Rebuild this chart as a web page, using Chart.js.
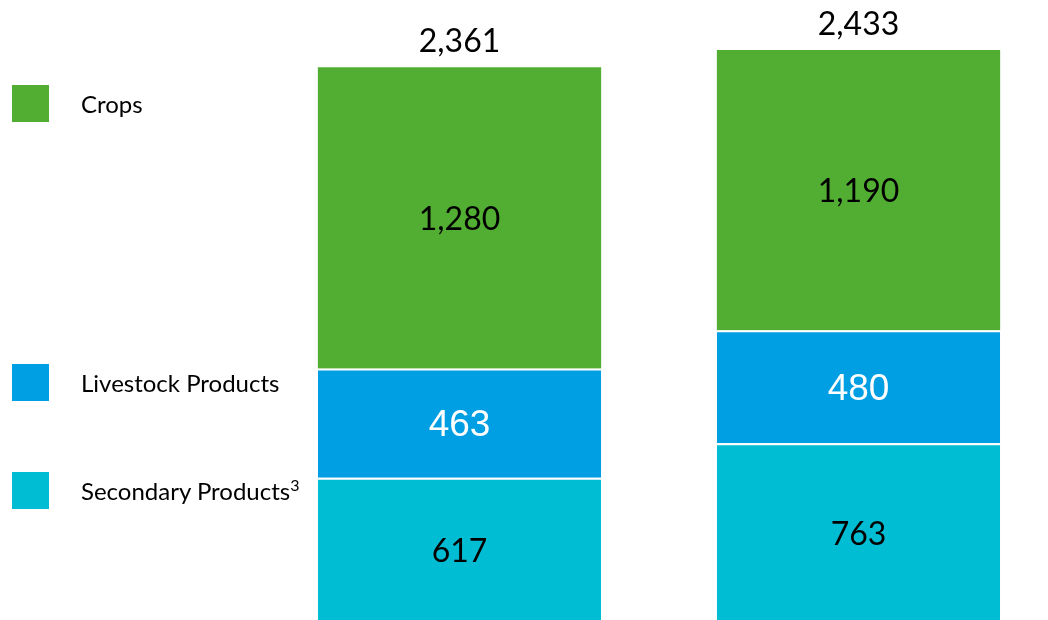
<!DOCTYPE html>
<html>
<head>
<meta charset="utf-8">
<script src="https://cdn.jsdelivr.net/npm/chart.js@4"></script>
<style>
  html, body { margin: 0; padding: 0; background: #fff; overflow: hidden; }
  #wrap { position: relative; width: 1058px; height: 623px; }
  .legend-item { position: absolute; left: 12px; height: 37px; display: flex; align-items: center; }
  .legend-item .box { width: 37px; height: 37px; }
  .legend-item .txt { position: absolute; left: 69px; white-space: nowrap; font-family: Lato, "Open Sans", sans-serif; font-size: 24px; color: #000; top: 4px; }
  .legend-item sup { font-size: 16px; vertical-align: 9px; line-height: 0; }
</style>
</head>
<body>
<div id="wrap">
  <canvas id="chart" width="1058" height="623"></canvas>
  <div id="legend"></div>
</div>
<script>
const categories = ['Period 1', 'Period 2'];
const crops = [1280, 1190];
const livestock = [463, 480];
const secondary = [617, 763];
const totals = [2361, 2433];

const seriesNames = ['Secondary Products', 'Livestock Products', 'Crops'];
const seriesColors = ['#00BDD3', '#009FE3', '#52AE32'];
const labelColors = ['#000000', '#ffffff', '#000000'];

// legend, drawn in html on the left
const legendTops = { 'Crops': 85, 'Livestock Products': 364, 'Secondary Products': 472 };
const legendEl = document.getElementById('legend');
seriesNames.forEach((name, i) => {
  const item = document.createElement('div');
  item.className = 'legend-item';
  item.style.top = legendTops[name] + 'px';
  const box = document.createElement('div');
  box.className = 'box';
  box.style.background = seriesColors[i];
  const txt = document.createElement('div');
  txt.className = 'txt';
  txt.innerHTML = name + (name === 'Secondary Products' ? '<sup>3</sup>' : '');
  item.appendChild(box);
  item.appendChild(txt);
  legendEl.appendChild(item);
});

const fmt = v => v.toLocaleString('en-US');

const valueLabels = {
  id: 'valueLabels',
  afterDatasetsDraw(chart) {
    const ctx = chart.ctx;
    ctx.save();
    ctx.textAlign = 'center';
    ctx.textBaseline = 'alphabetic';
    chart.data.datasets.forEach((ds, di) => {
      const meta = chart.getDatasetMeta(di);
      meta.data.forEach((el, i) => {
        const mid = (el.y + el.base) / 2;
        ctx.fillStyle = labelColors[di];
        if (di === 1) {
          ctx.font = '37px "Liberation Sans", Arial, sans-serif';
          ctx.fillText(fmt(ds.data[i]), el.x, mid + 13);
        } else {
          ctx.font = '32px Lato, sans-serif';
          ctx.fillText(fmt(ds.data[i]), el.x, mid + 12);
        }
      });
    });
    // totals above the top segment
    const topMeta = chart.getDatasetMeta(chart.data.datasets.length - 1);
    ctx.font = '32px Lato, sans-serif';
    ctx.fillStyle = '#000';
    topMeta.data.forEach((el, i) => {
      ctx.fillText(fmt(totals[i]), el.x, el.y - 15);
    });
    ctx.restore();
  }
};

new Chart(document.getElementById('chart'), {
  type: 'bar',
  data: {
    labels: categories,
    datasets: [
      { label: seriesNames[0], data: secondary, backgroundColor: seriesColors[0],
        borderColor: '#fff', borderWidth: { top: 2, right: 0, bottom: 0, left: 0 } },
      { label: seriesNames[1], data: livestock, backgroundColor: seriesColors[1],
        borderColor: '#fff', borderWidth: { top: 2, right: 0, bottom: 0, left: 0 } },
      { label: seriesNames[2], data: crops, backgroundColor: seriesColors[2], borderWidth: 0 }
    ]
  },
  options: {
    responsive: false,
    animation: false,
    layout: { padding: { left: 260, top: 0, right: 0, bottom: 0 } },
    datasets: { bar: { categoryPercentage: 1, barPercentage: 0.71, borderSkipped: 'start' } },
    scales: {
      x: { stacked: true, display: false },
      y: { stacked: true, display: false, min: 0, max: 2645 }
    },
    plugins: { legend: { display: false }, tooltip: { enabled: false } }
  },
  plugins: [valueLabels]
});
</script>
</body>
</html>
